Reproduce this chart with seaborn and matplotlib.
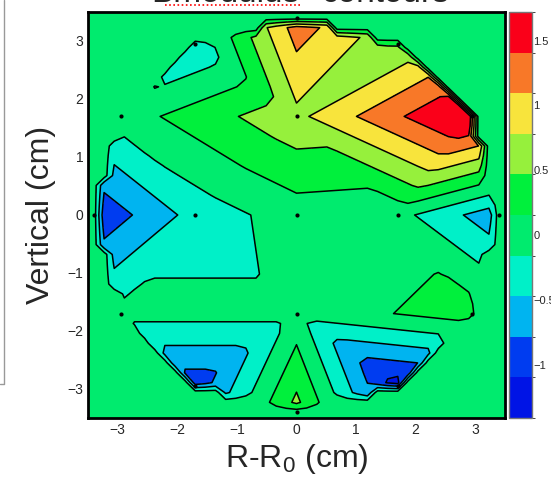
import numpy as np
import matplotlib
matplotlib.use("Agg")
import matplotlib.pyplot as plt
import matplotlib.tri as mtri
from matplotlib.colors import ListedColormap, BoundaryNorm
from matplotlib.lines import Line2D
from matplotlib.ticker import MultipleLocator
import seaborn as sns

# probe positions (cm) and measured values
x_pos = [0.0, 1.7, -1.7, 0.0, 0.0,
         3.4, 2.94, 1.7, 0.0, -1.7, -2.94, -3.4, -2.94, -1.7, 0.0, 1.7, 2.94]
y_pos = [0.0, 0.0, 0.0, 1.7, -1.7,
         0.0, 1.7, 2.94, 3.4, 2.94, 1.7, 0.0, -1.7, -2.94, -3.4, -2.94, -1.7]
z_val = [0.0, -0.05, -0.35, 0.7, -0.05,
         -0.7, 1.85, 0.5, 1.3, -0.45, 0.0, -1.05, -0.05, -1.0, 0.6, -1.28, 0.32]

# triangulation of the probe layout (ties broken along horizontal diagonals)
triangles = [[0, 1, 3], [0, 3, 2], [0, 2, 4], [0, 4, 1],
             [1, 5, 6], [1, 6, 3], [3, 6, 7], [3, 7, 8],
             [2, 11, 10], [2, 10, 3], [3, 10, 9], [3, 9, 8],
             [2, 11, 12], [2, 12, 4], [4, 12, 13], [4, 13, 14],
             [1, 5, 16], [1, 16, 4], [4, 16, 15], [4, 15, 14]]

# colour scale read from the palette on the right
z_min, z_max = -1.41, 1.72
band_colors = ["#0014e6", "#003cf0", "#00b4f0", "#00f0c8", "#00eb6e",
               "#00f03c", "#96f03c", "#f8e43c", "#f87828", "#fa0019"]
cbar_ticks = [-1, -0.5, 0, 0.5, 1, 1.5]
cbar_labels = ["\u22121", "\u22120.5", "0", "0.5", "1", "1.5"]

sns.set_style("white")
plt.rcParams["font.family"] = ["Liberation Sans", "DejaVu Sans"]
plt.rcParams["mathtext.default"] = "regular"

levels = np.linspace(z_min, z_max, len(band_colors) + 1)
cmap = ListedColormap(band_colors)
norm = BoundaryNorm(levels, cmap.N)

# interpolate on a 41x41 grid like a TGraph2D, zero outside the hull
tri = mtri.Triangulation(x_pos, y_pos, triangles)
interp = mtri.LinearTriInterpolator(tri, z_val)
nodes = np.linspace(-3.4, 3.4, 41)
gx, gy = np.meshgrid(nodes, nodes)
gz = interp(gx, gy).filled(0.0)
gz = np.clip(gz, z_min + 1e-3, z_max - 1e-3)

fig = plt.figure(figsize=(5.51, 4.80), dpi=100)
ax = fig.add_axes([88 / 551, 62 / 480, 417 / 551, 406 / 480])
cax = fig.add_axes([509 / 551, 62 / 480, 23 / 551, 406 / 480])
ax.set_facecolor(band_colors[4])

ax.contourf(gx, gy, gz, levels=levels, cmap=cmap, norm=norm)
ax.contour(gx, gy, gz, levels=levels[1:-1], colors="black", linewidths=1.1,
           linestyles="solid")
sns.scatterplot(x=x_pos, y=y_pos, ax=ax, color="black", s=9, linewidth=0, zorder=5)

ax.set_xlim(-3.5, 3.5)
ax.set_ylim(-3.5, 3.5)
ax.xaxis.set_major_locator(MultipleLocator(1))
ax.yaxis.set_major_locator(MultipleLocator(1))
ax.xaxis.set_minor_locator(MultipleLocator(0.1))
ax.yaxis.set_minor_locator(MultipleLocator(0.1))
ax.tick_params(which="major", direction="in", length=11, width=1.2, labelsize=10,
               color="black", top=False, right=False)
ax.tick_params(which="minor", direction="in", length=5, width=1, color="black",
               top=False, right=False)
for sp in ax.spines.values():
    sp.set_color("black")
    sp.set_linewidth(2)

ax.set_xlabel("R-R$_0$ (cm)", fontsize=23, labelpad=4)
ax.set_ylabel("Vertical (cm)", fontsize=23, labelpad=8)

# palette
cb = fig.colorbar(plt.cm.ScalarMappable(norm=norm, cmap=cmap), cax=cax, ticks=cbar_ticks)
cb.outline.set_edgecolor("#777777")
cb.outline.set_linewidth(1)
cax.tick_params(direction="in", length=9, width=1.2, labelsize=8, color="black", pad=1)
cax.set_yticklabels(cbar_labels)

# title, cut at the top of the picture
fig.text(300 / 551, 1 - 1.5 / 480, "Bmodulus", fontsize=24, ha="right", va="baseline")
fig.text(322 / 551, 1 - 1.5 / 480, "contours", fontsize=24, ha="left", va="baseline")
fig.add_artist(Line2D([165 / 551, 300 / 551], [1 - 5 / 480, 1 - 5 / 480],
                      color="red", linestyle=(0, (1, 1.5)), linewidth=1.2))

# edge of the neighbouring panel
fig.add_artist(Line2D([4 / 551, 4 / 551, 0], [1, 1 - 384 / 480, 1 - 384 / 480],
                      color="#999999", linewidth=1))

fig.savefig("out.png", dpi=100)
